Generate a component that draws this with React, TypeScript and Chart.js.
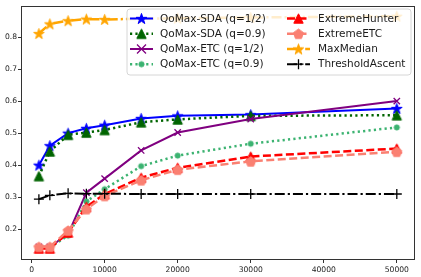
import React, { useEffect, useRef } from "react";
import { Chart, registerables } from "chart.js";

Chart.register(...registerables);

const xValues = [1000, 2500, 5000, 7500, 10000, 15000, 20000, 30000, 50000];
const sdaHalf = [0.4, 0.461, 0.5, 0.515, 0.525, 0.546, 0.554, 0.558, 0.577];
const sda09 = [0.366, 0.443, 0.495, 0.502, 0.51, 0.534, 0.543, 0.554, 0.556];
const etcHalf = [0.145, 0.145, 0.185, 0.314, 0.358, 0.446, 0.502, 0.544, 0.6];
const etc09 = [0.143, 0.143, 0.18, 0.287, 0.325, 0.397, 0.43, 0.467, 0.518];
const extremeHunter = [0.14, 0.14, 0.19, 0.27, 0.31, 0.361, 0.392, 0.427, 0.452];
const extremeEtc = [0.145, 0.145, 0.196, 0.263, 0.304, 0.353, 0.386, 0.412, 0.442];
const maxMedian = [0.811, 0.841, 0.851, 0.856, 0.855, 0.857, 0.859, 0.861, 0.865];
const thresholdAscent = [0.294, 0.306, 0.312, 0.311, 0.311, 0.31, 0.31, 0.31, 0.31];

const xTicks = [0, 10000, 20000, 30000, 40000, 50000];
const yTicks = [0.2, 0.3, 0.4, 0.5, 0.6, 0.7, 0.8];

const seriesNames = [
  "QoMax-SDA (q=1/2)",
  "QoMax-SDA (q=0.9)",
  "QoMax-ETC (q=1/2)",
  "QoMax-ETC (q=0.9)",
  "ExtremeHunter",
  "ExtremeETC",
  "MaxMedian",
  "ThresholdAscent",
];
const seriesValues = [sdaHalf, sda09, etcHalf, etc09, extremeHunter, extremeEtc, maxMedian, thresholdAscent];

type Marker = { kind: "star" | "tri" | "pent" | "circle" | "x" | "plus"; r: number };
type Style = { color: string; width: number; dash: number[]; marker: Marker };

const styles: Style[] = [
  { color: "#0000ff", width: 2, dash: [], marker: { kind: "star", r: 5.6 } },
  { color: "#006400", width: 2.5, dash: [2.2, 3.2], marker: { kind: "tri", r: 4.7 } },
  { color: "#800080", width: 2, dash: [], marker: { kind: "x", r: 4.5 } },
  { color: "#3cb371", width: 2.5, dash: [2.2, 3.2], marker: { kind: "circle", r: 2.6 } },
  { color: "#ff0000", width: 2.5, dash: [8, 3.5], marker: { kind: "tri", r: 4.7 } },
  { color: "#fa8072", width: 2.5, dash: [8, 3.5], marker: { kind: "pent", r: 5.2 } },
  { color: "#ffa500", width: 2.5, dash: [10, 3, 2.2, 3], marker: { kind: "star", r: 5.6 } },
  { color: "#000000", width: 2, dash: [10, 3, 2.2, 3], marker: { kind: "plus", r: 5 } },
];

function makeMarker(m: Marker, color: string): HTMLCanvasElement | string {
  if (m.kind === "x") return "crossRot";
  if (m.kind === "plus") return "cross";
  const size = 17;
  const c = document.createElement("canvas");
  c.width = size;
  c.height = size;
  const ctx = c.getContext("2d")!;
  const cx = size / 2;
  const cy = size / 2;
  ctx.fillStyle = color;
  ctx.strokeStyle = color;
  ctx.lineWidth = 1;
  ctx.beginPath();
  if (m.kind === "star") {
    for (let i = 0; i < 10; i++) {
      const a = -Math.PI / 2 + (i * Math.PI) / 5;
      const r = i % 2 === 0 ? m.r : m.r * 0.382;
      const px = cx + r * Math.cos(a);
      const py = cy + r * Math.sin(a) + m.r * 0.1;
      if (i === 0) ctx.moveTo(px, py);
      else ctx.lineTo(px, py);
    }
  } else if (m.kind === "pent") {
    for (let i = 0; i < 5; i++) {
      const a = -Math.PI / 2 + (i * 2 * Math.PI) / 5;
      const px = cx + m.r * Math.cos(a);
      const py = cy + m.r * Math.sin(a) + 0.5;
      if (i === 0) ctx.moveTo(px, py);
      else ctx.lineTo(px, py);
    }
  } else if (m.kind === "tri") {
    ctx.moveTo(cx, cy - m.r);
    ctx.lineTo(cx - m.r, cy + m.r);
    ctx.lineTo(cx + m.r, cy + m.r);
  } else if (m.kind === "circle") {
    ctx.arc(cx, cy, m.r, 0, Math.PI * 2);
  }
  ctx.closePath();
  ctx.fill();
  ctx.stroke();
  return c;
}

export default function App() {
  const ref = useRef<HTMLCanvasElement>(null);

  useEffect(() => {
    if (!ref.current) return;
    const markers = styles.map((s) => makeMarker(s.marker, s.color));

    const datasets = seriesNames.map((name, i) => {
      const s = styles[i];
      const pt = markers[i];
      return {
        label: name,
        data: xValues.map((x, k) => ({ x, y: seriesValues[i][k] })),
        borderColor: s.color,
        backgroundColor: s.color,
        borderWidth: s.width,
        borderDash: s.dash,
        pointStyle: pt as any,
        pointRadius: typeof pt === "string" ? s.marker.r : 6,
        pointBorderWidth: typeof pt === "string" ? 1.3 : 0,
        pointBorderColor: s.color,
        pointBackgroundColor: s.color,
        tension: 0,
        fill: false,
        order: 10 - i,
      };
    });

    const framePlugin = {
      id: "frameAndLegend",
      afterDatasetsDraw(chart: any) {
        const { ctx, chartArea: a } = chart;
        ctx.save();
        ctx.strokeStyle = "#333333";
        ctx.lineWidth = 1;
        ctx.setLineDash([]);
        ctx.strokeRect(Math.round(a.left) + 0.5, Math.round(a.top) + 0.5, Math.round(a.right - a.left) - 1, Math.round(a.bottom - a.top) - 1);

        // legend box
        const bx = 127, by = 9, bw = 284, bh = 66, rr = 3;
        ctx.beginPath();
        ctx.moveTo(bx + rr, by);
        ctx.lineTo(bx + bw - rr, by);
        ctx.quadraticCurveTo(bx + bw, by, bx + bw, by + rr);
        ctx.lineTo(bx + bw, by + bh - rr);
        ctx.quadraticCurveTo(bx + bw, by + bh, bx + bw - rr, by + bh);
        ctx.lineTo(bx + rr, by + bh);
        ctx.quadraticCurveTo(bx, by + bh, bx, by + bh - rr);
        ctx.lineTo(bx, by + rr);
        ctx.quadraticCurveTo(bx, by, bx + rr, by);
        ctx.closePath();
        ctx.fillStyle = "rgba(255,255,255,0.8)";
        ctx.fill();
        ctx.strokeStyle = "#d6d6d6";
        ctx.lineWidth = 1;
        ctx.stroke();

        const rowsY = [18.5, 33.7, 49, 64.2];
        const cols = [
          { lx: 130, tx: 160 },
          { lx: 287, tx: 318 },
        ];
        ctx.font = "10.5px 'DejaVu Sans'";
        ctx.textBaseline = "middle";
        ctx.textAlign = "left";
        seriesNames.forEach((name, i) => {
          const col = cols[Math.floor(i / 4)];
          const y = rowsY[i % 4];
          const s = styles[i];
          const x0 = col.lx;
          const x1 = col.lx + 23;
          ctx.save();
          ctx.strokeStyle = s.color;
          ctx.lineWidth = s.width;
          ctx.setLineDash(s.dash);
          ctx.beginPath();
          ctx.moveTo(x0, y);
          ctx.lineTo(x1, y);
          ctx.stroke();
          ctx.setLineDash([]);
          const mx = (x0 + x1) / 2;
          const mk = markers[i];
          if (typeof mk === "string") {
            const r = s.marker.r;
            ctx.lineWidth = 1.3;
            ctx.beginPath();
            if (mk === "crossRot") {
              ctx.moveTo(mx - r, y - r);
              ctx.lineTo(mx + r, y + r);
              ctx.moveTo(mx - r, y + r);
              ctx.lineTo(mx + r, y - r);
            } else {
              ctx.moveTo(mx - r, y);
              ctx.lineTo(mx + r, y);
              ctx.moveTo(mx, y - r);
              ctx.lineTo(mx, y + r);
            }
            ctx.stroke();
          } else {
            ctx.drawImage(mk, mx - mk.width / 2, y - mk.height / 2);
          }
          ctx.restore();
          ctx.fillStyle = "#1a1a1a";
          ctx.fillText(name, col.tx, y + 0.5);
        });
        ctx.restore();
      },
    };

    const tickFont = { family: "'DejaVu Sans'", size: 7.6 };

    const chart = new Chart(ref.current, {
      type: "line",
      data: { datasets: datasets as any },
      options: {
        animation: false,
        responsive: false,
        devicePixelRatio: 1,
        events: [],
        layout: { padding: { top: 4, right: 5, left: 0, bottom: 0 } },
        plugins: {
          legend: { display: false },
          tooltip: { enabled: false },
        },
        scales: {
          x: {
            type: "linear",
            min: -1450,
            max: 52450,
            afterBuildTicks: (scale: any) => {
              scale.ticks = xTicks.map((v) => ({ value: v }));
            },
            afterFit: (scale: any) => {
              scale.height = 17;
            },
            ticks: {
              font: tickFont,
              color: "#222",
              padding: 2,
              maxRotation: 0,
              autoSkip: false,
              callback: (v: any) => String(v),
            },
            grid: { drawOnChartArea: false, drawTicks: true, tickLength: 3, color: "#333" },
            border: { display: false },
          },
          y: {
            type: "linear",
            min: 0.104,
            max: 0.896,
            afterBuildTicks: (scale: any) => {
              scale.ticks = yTicks.map((v) => ({ value: v }));
            },
            afterFit: (scale: any) => {
              scale.width = 21;
            },
            ticks: {
              font: tickFont,
              color: "#222",
              padding: 1,
              autoSkip: false,
              callback: (v: any) => Number(v).toFixed(1),
            },
            grid: { drawOnChartArea: false, drawTicks: true, tickLength: 3, color: "#333" },
            border: { display: false },
          },
        },
      },
      plugins: [framePlugin],
    });
    return () => chart.destroy();
  }, []);

  return (
    <div style={{ position: "absolute", left: 0, top: 0, width: 421, height: 277, background: "#fff" }}>
      <canvas ref={ref} width={421} height={277} style={{ width: 421, height: 277, display: "block" }} />
    </div>
  );
}
